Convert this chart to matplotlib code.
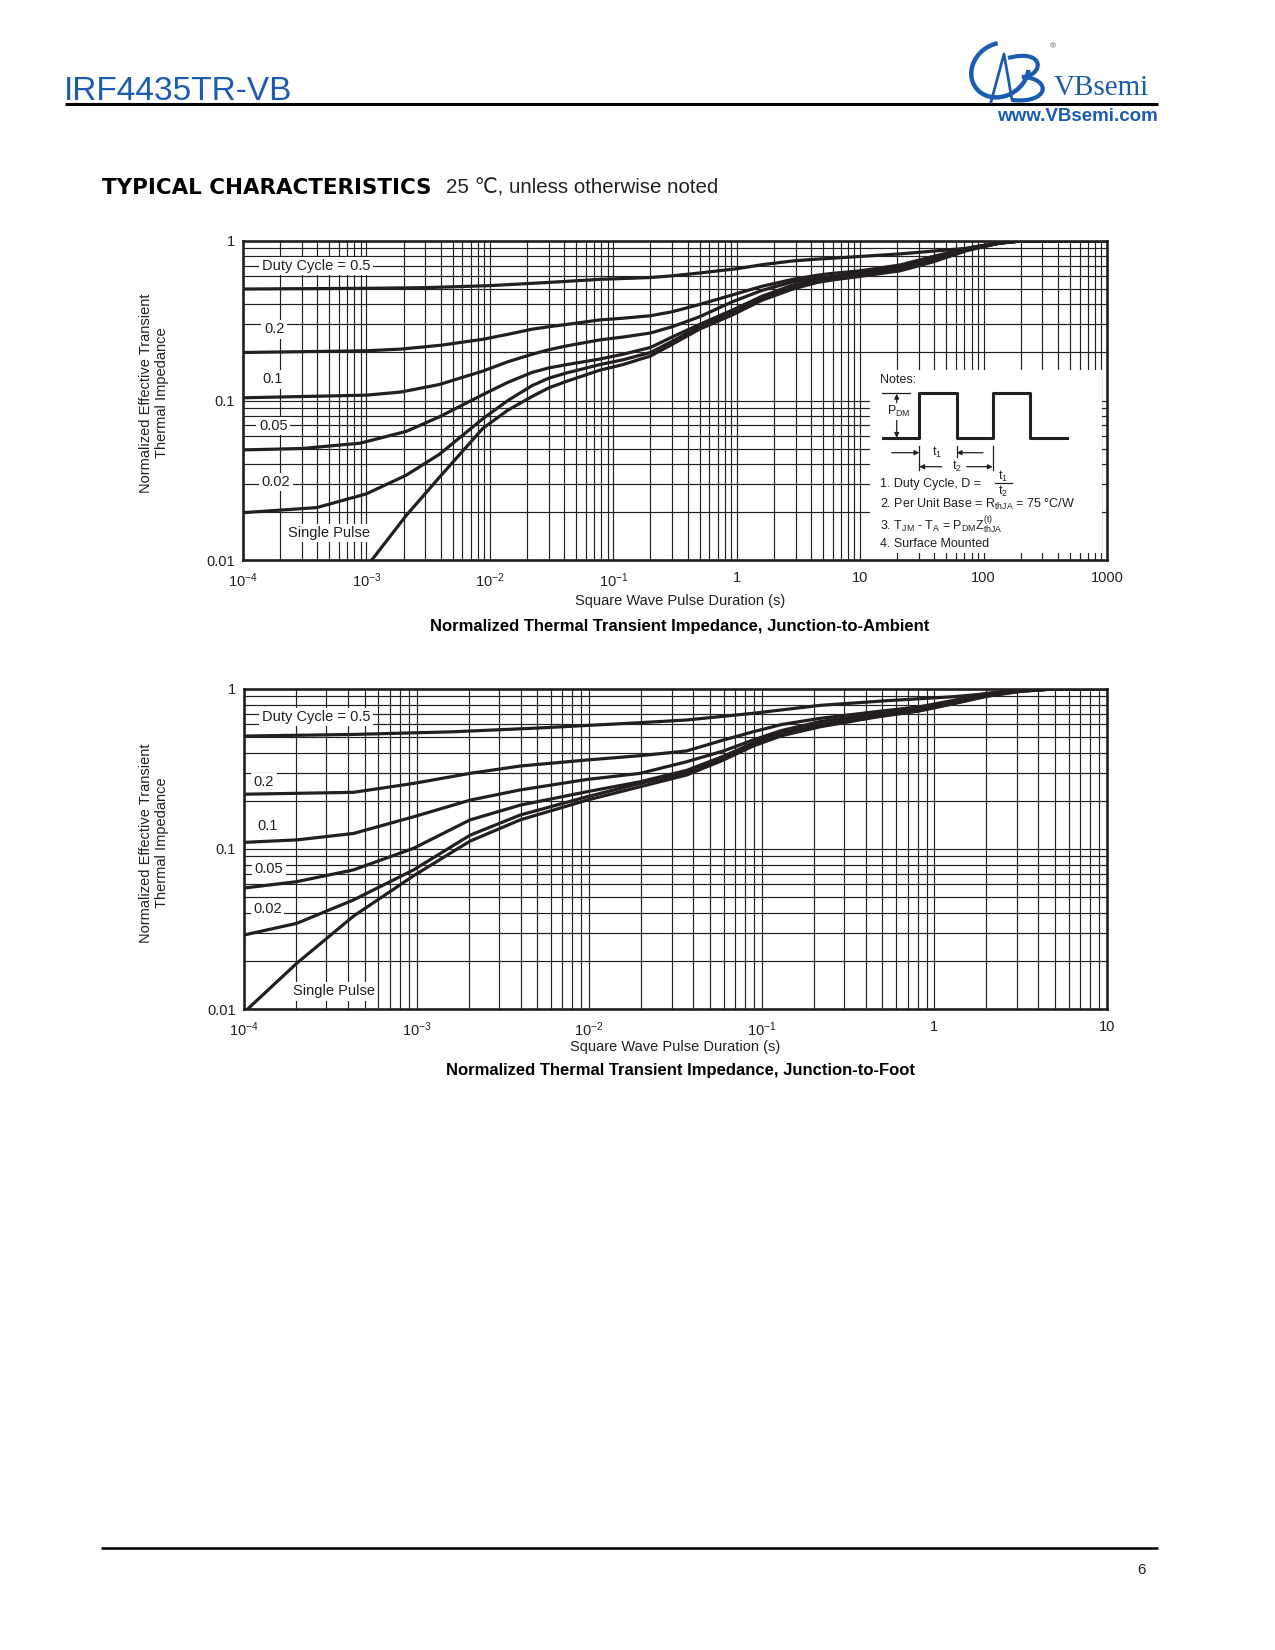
import matplotlib
matplotlib.use("Agg")
import matplotlib.pyplot as plt
import numpy as np
from matplotlib.patches import Arc, PathPatch
from matplotlib.path import Path
from matplotlib.ticker import NullFormatter

# --- junction-to-ambient curves (upper chart) ---
ja_t_d05 = [1e-4, 1e-3, 3e-3, 1e-2, 3e-2, 0.078, 0.2, 0.3, 0.5, 1.0, 1.6, 2.85, 4.5, 6.0, 21, 73, 135, 200, 1000]
ja_z_d05 = [0.50, 0.505, 0.51, 0.525, 0.55, 0.575, 0.59, 0.605, 0.63, 0.67, 0.71, 0.75, 0.77, 0.78, 0.83, 0.90, 0.97, 1.0, 1.0]

ja_t_d02 = [1e-4, 1e-3, 1.9e-3, 4e-3, 8.8e-3, 1.4e-2, 2.2e-2, 3e-2, 4.2e-2, 0.078, 0.12, 0.2, 0.3, 0.5, 0.93,
            1.6, 2.85, 4.5, 6.0, 10, 21, 39, 73, 135, 200, 1000]
ja_z_d02 = [0.20, 0.205, 0.21, 0.222, 0.242, 0.26, 0.28, 0.29, 0.30, 0.32, 0.328, 0.34, 0.36, 0.40, 0.46,
            0.52, 0.575, 0.61, 0.627, 0.65, 0.707, 0.80, 0.90, 0.98, 1.0, 1.0]

ja_t_d01 = [1e-4, 1e-3, 1.9e-3, 3.9e-3, 8.8e-3, 1.4e-2, 2.2e-2, 3e-2, 4.2e-2, 0.078, 0.12, 0.2, 0.3, 0.5, 0.93,
            1.6, 2.85, 4.5, 6.0, 10, 21, 39, 73, 135, 200, 1000]
ja_z_d01 = [0.104, 0.108, 0.113, 0.126, 0.153, 0.175, 0.195, 0.208, 0.22, 0.24, 0.25, 0.265, 0.29, 0.335, 0.417,
            0.49, 0.555, 0.585, 0.60, 0.63, 0.69, 0.78, 0.89, 0.98, 1.0, 1.0]

ja_t_d005 = [1e-4, 3e-4, 8.9e-4, 2.1e-3, 3.9e-3, 8.8e-3, 1.4e-2, 2.2e-2, 3e-2, 4.2e-2, 0.078, 0.12, 0.2, 0.3, 0.5,
             0.93, 1.6, 2.85, 4.5, 6.0, 10, 21, 39, 73, 135, 200, 1000]
ja_z_d005 = [0.049, 0.050, 0.054, 0.064, 0.079, 0.109, 0.13, 0.150, 0.160, 0.168, 0.182, 0.195, 0.215, 0.25, 0.30,
             0.37, 0.45, 0.53, 0.57, 0.585, 0.615, 0.67, 0.76, 0.88, 0.97, 1.0, 1.0]

ja_t_d002 = [1e-4, 3.95e-4, 1e-3, 2.1e-3, 3.9e-3, 8.8e-3, 1.4e-2, 2.2e-2, 3e-2, 4.2e-2, 0.078, 0.12, 0.2, 0.3, 0.5,
             0.93, 1.6, 2.85, 4.5, 6.0, 10, 21, 39, 73, 135, 200, 1000]
ja_z_d002 = [0.0198, 0.0213, 0.026, 0.034, 0.046, 0.077, 0.10, 0.124, 0.138, 0.149, 0.168, 0.18, 0.20, 0.235, 0.29,
             0.36, 0.435, 0.51, 0.555, 0.575, 0.605, 0.66, 0.75, 0.88, 0.97, 1.0, 1.0]

ja_t_single = [1.05e-3, 2.1e-3, 3.9e-3, 8.8e-3, 1.4e-2, 2.2e-2, 3e-2, 4.2e-2, 0.078, 0.12, 0.2, 0.3, 0.5,
               0.93, 1.6, 2.85, 4.5, 6.0, 10, 21, 39, 73, 135, 200, 1000]
ja_z_single = [0.0095, 0.019, 0.033, 0.067, 0.087, 0.106, 0.12, 0.132, 0.155, 0.168, 0.19, 0.225, 0.28,
               0.345, 0.425, 0.50, 0.55, 0.57, 0.60, 0.65, 0.74, 0.87, 0.97, 1.0, 1.0]

# --- junction-to-foot curves (lower chart) ---
jf_t_d05 = [1e-4, 4.3e-4, 1.6e-3, 5e-3, 0.0197, 0.0367, 0.089, 0.217, 0.53, 1.29, 3.13, 4.9, 10]
jf_z_d05 = [0.508, 0.52, 0.54, 0.57, 0.616, 0.64, 0.705, 0.79, 0.845, 0.895, 0.975, 1.0, 1.0]

jf_t_d02 = [1e-4, 4.3e-4, 9.6e-4, 2.04e-3, 3.98e-3, 9.7e-3, 0.0197, 0.0367, 0.06, 0.089, 0.13, 0.217, 0.45,
            0.825, 1.3, 2.01, 3.13, 4.9, 10]
jf_z_d02 = [0.22, 0.226, 0.257, 0.297, 0.33, 0.36, 0.383, 0.41, 0.48, 0.54, 0.60, 0.655, 0.72,
            0.775, 0.85, 0.94, 0.98, 1.0, 1.0]

jf_t_lo = [1e-4, 2.02e-4, 4.3e-4, 9.6e-4, 2.04e-3, 3.98e-3, 9.7e-3, 0.0197, 0.0367, 0.06, 0.089, 0.13, 0.217,
           0.45, 0.825, 1.3, 2.01, 3.13, 4.9, 10]
jf_z_d01 = [0.11, 0.114, 0.125, 0.159, 0.202, 0.234, 0.272, 0.297, 0.351, 0.41, 0.48, 0.55, 0.625,
            0.70, 0.76, 0.84, 0.93, 0.98, 1.0, 1.0]
jf_z_d005 = [0.057, 0.0625, 0.074, 0.101, 0.152, 0.188, 0.228, 0.263, 0.31, 0.38, 0.46, 0.53, 0.60,
             0.68, 0.745, 0.82, 0.91, 0.97, 1.0, 1.0]
jf_z_d002 = [0.029, 0.0343, 0.048, 0.074, 0.122, 0.163, 0.212, 0.257, 0.30, 0.37, 0.45, 0.52, 0.59,
             0.67, 0.735, 0.815, 0.905, 0.97, 1.0, 1.0]

jf_t_single = [1.05e-4, 2.02e-4, 4.3e-4, 9.6e-4, 2.04e-3, 3.98e-3, 9.7e-3, 0.0197, 0.0367, 0.06, 0.089, 0.13,
               0.217, 0.45, 0.825, 1.3, 2.01, 3.13, 4.9, 10]
jf_z_single = [0.01, 0.0193, 0.038, 0.068, 0.112, 0.152, 0.202, 0.245, 0.29, 0.36, 0.44, 0.51,
               0.58, 0.665, 0.73, 0.81, 0.90, 0.965, 1.0, 1.0]

curve_labels = ["Duty Cycle = 0.5", "0.2", "0.1", "0.05", "0.02", "Single Pulse"]
ja_xticklabels = ["10$^{-4}$", "10$^{-3}$", "10$^{-2}$", "10$^{-1}$", "1", "10", "100", "1000"]
jf_xticklabels = ["10$^{-4}$", "10$^{-3}$", "10$^{-2}$", "10$^{-1}$", "1", "10"]
y_ticklabels = ["0.01", "0.1", "1"]

plt.rcParams['font.family'] = ['Liberation Sans', 'DejaVu Sans']
plt.rcParams['mathtext.fontset'] = 'custom'
plt.rcParams['mathtext.rm'] = 'Liberation Sans'
plt.rcParams['mathtext.it'] = 'Liberation Sans:italic'
plt.rcParams['mathtext.bf'] = 'Liberation Sans:bold'
plt.rcParams['mathtext.default'] = 'regular'

INK = '#231f20'
BLUE = '#1c5cb0'
W, H = 1275, 1650


def fig_rect(x0, y0, x1, y1):
    # page pixels -> figure fraction rect
    return [x0 / W, 1 - y1 / H, (x1 - x0) / W, (y1 - y0) / H]


def setup_chart(ax, decades, xlabels):
    ax.set_xscale('log')
    ax.set_yscale('log')
    ax.set_xlim(10.0 ** decades[0], 10.0 ** decades[-1])
    ax.set_ylim(0.01, 1)
    ax.set_xticks([10.0 ** d for d in decades])
    ax.set_xticklabels(xlabels)
    ax.set_xticks([m * 10.0 ** d for d in decades[:-1] for m in range(2, 10)], minor=True)
    ax.set_yticks([0.01, 0.1, 1])
    ax.set_yticklabels(y_ticklabels)
    ax.set_yticks([m * 10.0 ** d for d in (-2, -1) for m in range(2, 10)], minor=True)
    ax.xaxis.set_minor_formatter(NullFormatter())
    ax.yaxis.set_minor_formatter(NullFormatter())
    ax.tick_params(which='both', length=0, labelsize=10.5, colors=INK)
    ax.tick_params(axis='x', pad=8)
    ax.tick_params(axis='y', pad=6)
    ax.grid(True, which='both', color=INK, lw=0.85)
    ax.set_axisbelow(True)
    for s in ax.spines.values():
        s.set_linewidth(1.9)
        s.set_color(INK)


def label_curves(ax, spots):
    for text, (x, y) in zip(curve_labels, spots):
        ax.text(x, y, text, transform=ax.transAxes, ha='center', va='center',
                fontsize=10.5, color=INK, zorder=4,
                bbox=dict(fc='white', ec='none', pad=1.8))


fig = plt.figure(figsize=(W / 100, H / 100), dpi=100)

# page furniture drawn in pixel coordinates
page = fig.add_axes([0, 0, 1, 1])
page.set_xlim(0, W)
page.set_ylim(H, 0)
page.axis('off')

page.text(64, 100, 'IRF4435TR-VB', fontsize=24, color=BLUE, va='baseline')
page.plot([65, 1158], [104, 104], color='black', lw=2.2, solid_capstyle='butt')
page.text(1054, 95, 'VBsemi', fontsize=21, color=BLUE,
          family=['Liberation Serif', 'DejaVu Serif'], va='baseline')
page.text(1158, 121, 'www.VBsemi.com', fontsize=13.5, color=BLUE, weight='bold',
          ha='right', va='baseline')
page.text(1053, 47, '\u00ae', fontsize=6, color='#555555', ha='center', va='center')
# logo mark
page.add_patch(Arc((1000, 70), 60, 52, angle=-35, theta1=35, theta2=300,
                   color=BLUE, lw=3.2))
page.plot([991, 1004, 1012], [102, 54, 100], color=BLUE, lw=2.0)
logo_b = Path([(1008, 58), (1046, 48), (1044, 76), (1022, 77),
               (1052, 78), (1050, 104), (1012, 100)],
              [Path.MOVETO, Path.CURVE4, Path.CURVE4, Path.CURVE4,
               Path.CURVE4, Path.CURVE4, Path.CURVE4])
page.add_patch(PathPatch(logo_b, fc='none', ec=BLUE, lw=3.0))

page.text(102, 188, 'TYPICAL CHARACTERISTICS', family='DejaVu Sans', weight='bold',
          fontsize=15.4, color='black', va='center')
page.text(446, 188, '25 \u2103, unless otherwise noted', fontsize=14.8,
          color=INK, va='center')

page.plot([101, 1158], [1548, 1548], color='black', lw=1.8, solid_capstyle='butt')
page.text(1142, 1570, '6', fontsize=11, ha='center', va='center', color=INK)

ylabel = 'Normalized Effective Transient\nThermal Impedance'

# ---------------- upper chart: junction-to-ambient ----------------
ax1 = fig.add_axes(fig_rect(243, 241, 1107, 560))
setup_chart(ax1, list(range(-4, 4)), ja_xticklabels)
for t, z in [(ja_t_d05, ja_z_d05), (ja_t_d02, ja_z_d02), (ja_t_d01, ja_z_d01),
             (ja_t_d005, ja_z_d005), (ja_t_d002, ja_z_d002), (ja_t_single, ja_z_single)]:
    ax1.plot(t, z, color=INK, lw=2.3, zorder=3, solid_capstyle='round', solid_joinstyle='round')
label_curves(ax1, [(0.0845, 0.9216), (0.036, 0.724), (0.034, 0.567),
                   (0.035, 0.420), (0.038, 0.2445), (0.0995, 0.0846)])

page.text(154, 393, ylabel, rotation=90, ha='center', va='center',
          multialignment='center', fontsize=10.5, color=INK, linespacing=1.1)
page.text(680, 601, 'Square Wave Pulse Duration (s)', ha='center', va='center',
          fontsize=10.5, color=INK)
page.text(680, 627, 'Normalized Thermal Transient Impedance, Junction-to-Ambient',
          ha='center', va='center', fontsize=12, weight='bold', color='black')

# notes panel sitting on top of the grid
notes = ax1.inset_axes([(870 - 243) / 864, 1 - (553 - 241) / 319, 232 / 864, 183 / 319])
notes.set_facecolor('white')
notes.set_xlim(0, 232)
notes.set_ylim(183, 0)
notes.set_xticks([])
notes.set_yticks([])
for s in notes.spines.values():
    s.set_visible(False)

fs = 9.0
notes.text(10, 10, 'Notes:', fontsize=fs, va='center', color=INK)
notes.plot([12.7, 49.3, 49.3, 86.7, 86.7, 122.7, 122.7, 160, 160, 196.7],
           [68.3, 68.3, 23.3, 23.3, 68.3, 68.3, 23.3, 23.3, 68.3, 68.3],
           color=INK, lw=2.2)
notes.plot([11.7, 40], [23.3, 23.3], color=INK, lw=0.9)
arrow = dict(arrowstyle='-|>', color=INK, lw=0.9, mutation_scale=7, shrinkA=0, shrinkB=0)
notes.annotate('', xy=(26.7, 23.8), xytext=(26.7, 45), arrowprops=arrow)
notes.annotate('', xy=(26.7, 67.8), xytext=(26.7, 45), arrowprops=arrow)
notes.text(29, 41.5, 'P$_{DM}$', fontsize=fs, ha='center', va='center', color=INK,
           bbox=dict(fc='white', ec='none', pad=0.5))
notes.annotate('', xy=(49.3, 82.7), xytext=(21.7, 82.7), arrowprops=arrow)
notes.annotate('', xy=(86.7, 82.7), xytext=(113, 82.7), arrowprops=arrow)
notes.annotate('', xy=(49.3, 96.7), xytext=(71.7, 96.7), arrowprops=arrow)
notes.annotate('', xy=(122.7, 96.7), xytext=(96.7, 96.7), arrowprops=arrow)
notes.plot([49.3, 49.3], [76, 100], color=INK, lw=0.9)
notes.plot([86.7, 86.7], [76, 87], color=INK, lw=0.9)
notes.plot([122.7, 122.7], [76, 100], color=INK, lw=0.9)
notes.text(66.7, 82.7, 't$_1$', fontsize=fs, ha='center', va='center', color=INK)
notes.text(86.7, 96.7, 't$_2$', fontsize=fs, ha='center', va='center', color=INK)
notes.text(10, 114.3, '1. Duty Cycle, D =', fontsize=fs, va='center', color=INK)
notes.text(133, 106.5, 't$_1$', fontsize=fs, ha='center', va='center', color=INK)
notes.plot([125, 142], [113.3, 113.3], color=INK, lw=0.9)
notes.text(133, 121.5, 't$_2$', fontsize=fs, ha='center', va='center', color=INK)
notes.text(10, 134, '2. Per Unit Base = R$_{thJA}$ = 75 \u00b0C/W', fontsize=fs,
           va='center', color=INK)
notes.text(10, 155, '3. T$_{JM}$ - T$_A$ = P$_{DM}$Z$_{thJA}^{(t)}$', fontsize=fs,
           va='center', color=INK)
notes.text(10, 174.3, '4. Surface Mounted', fontsize=fs, va='center', color=INK)

# ---------------- lower chart: junction-to-foot ----------------
ax2 = fig.add_axes(fig_rect(244, 689, 1107, 1009))
setup_chart(ax2, list(range(-4, 2)), jf_xticklabels)
for t, z in [(jf_t_d05, jf_z_d05), (jf_t_d02, jf_z_d02), (jf_t_lo, jf_z_d01),
             (jf_t_lo, jf_z_d005), (jf_t_lo, jf_z_d002), (jf_t_single, jf_z_single)]:
    ax2.plot(t, z, color=INK, lw=2.3, zorder=3, solid_capstyle='round', solid_joinstyle='round')
label_curves(ax2, [(0.0834, 0.9125), (0.0232, 0.709), (0.0278, 0.572),
                   (0.029, 0.4375), (0.027, 0.3125), (0.104, 0.056)])

page.text(154, 843, ylabel, rotation=90, ha='center', va='center',
          multialignment='center', fontsize=10.5, color=INK, linespacing=1.1)
page.text(675, 1047, 'Square Wave Pulse Duration (s)', ha='center', va='center',
          fontsize=10.5, color=INK)
page.text(680, 1071, 'Normalized Thermal Transient Impedance, Junction-to-Foot',
          ha='center', va='center', fontsize=12, weight='bold', color='black')

fig.savefig('out.png', dpi=100)
